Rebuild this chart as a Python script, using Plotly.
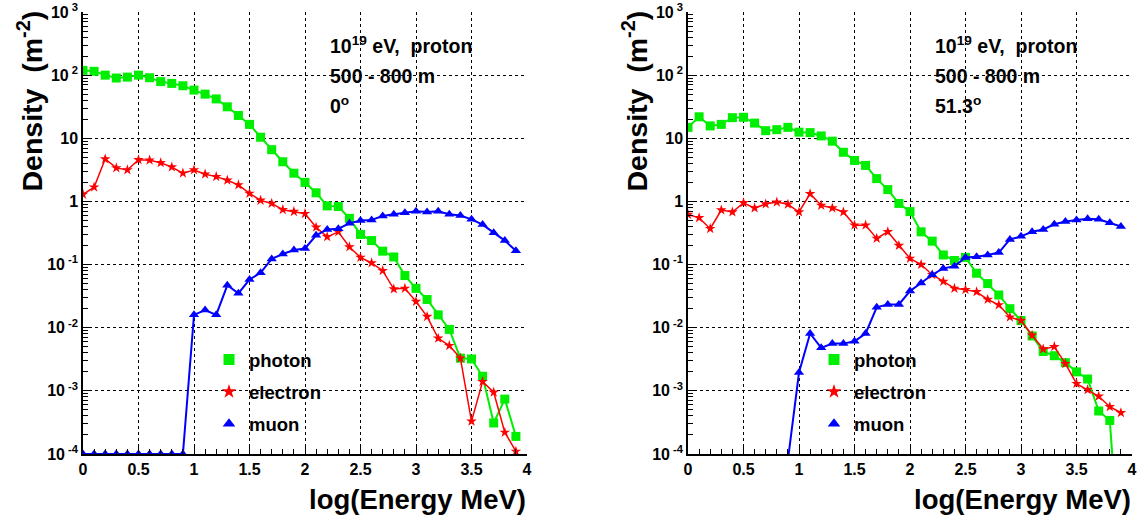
import plotly.graph_objects as go

# ---------------- data ----------------
log_energy = [0.0, 0.1, 0.2, 0.3, 0.4, 0.5, 0.6, 0.7, 0.8, 0.9,
              1.0, 1.1, 1.2, 1.3, 1.4, 1.5, 1.6, 1.7, 1.8, 1.9,
              2.0, 2.1, 2.2, 2.3, 2.4, 2.5, 2.6, 2.7, 2.8, 2.9,
              3.0, 3.1, 3.2, 3.3, 3.4, 3.5, 3.6, 3.7, 3.8, 3.9]

# zenith 0 deg
photon_0 = [119, 115, 100, 90, 93, 100, 91, 79, 74, 68,
            58, 50, 42, 31.5, 23, 16.6, 10.4, 6.6, 4.25, 2.8,
            2.0, 1.37, 0.85, 0.83, 0.54, 0.30, 0.24, 0.163, 0.132, 0.067,
            0.042, 0.028, 0.016, 0.0094, 0.0033, 0.0032, 0.0017, 0.00031, 0.00074, 0.00019]
electron_0 = [1.29, 1.68, 4.7, 3.4, 3.15, 4.57, 4.5, 4.1, 3.5, 2.8,
              3.15, 2.7, 2.47, 2.16, 1.83, 1.34, 1.04, 0.93, 0.74, 0.69,
              0.64, 0.39, 0.275, 0.33, 0.19, 0.13, 0.106, 0.080, 0.041, 0.042,
              0.026, 0.015, 0.0068, 0.0052, 0.0033, 0.00033, 0.0014, 0.00095, 0.00022, 0.00011]
muon_0 = [1e-4, 1e-4, 1e-4, 1e-4, 1e-4, 1e-4, 1e-4, 1e-4, 1e-4, 1e-4,
          0.016, 0.019, 0.016, 0.047, 0.035, 0.058, 0.074, 0.123, 0.147, 0.17,
          0.18, 0.29, 0.36, 0.37, 0.45, 0.50, 0.51, 0.59, 0.625, 0.66,
          0.70, 0.68, 0.70, 0.625, 0.60, 0.52, 0.43, 0.32, 0.24, 0.165]

# zenith 51.3 deg
photon_51 = [14.9, 21.9, 15.7, 16.6, 21.2, 21.5, 17.4, 13.2, 13.7, 14.9,
             12.5, 12.3, 10.9, 9.0, 6.0, 4.46, 3.72, 2.3, 1.54, 0.93,
             0.69, 0.33, 0.235, 0.142, 0.116, 0.13, 0.073, 0.050, 0.033, 0.020,
             0.013, 0.0074, 0.0042, 0.0036, 0.0028, 0.0020, 0.00154, 0.00048, 0.00034, 1.2e-6]
electron_51 = [0.62, 0.55, 0.37, 0.73, 0.68, 0.95, 0.785, 0.91, 0.975, 0.90,
               0.68, 1.32, 0.865, 0.785, 0.68, 0.42, 0.42, 0.26, 0.33, 0.20,
               0.125, 0.10, 0.069, 0.054, 0.042, 0.040, 0.037, 0.028, 0.023, 0.0147,
               0.013, 0.0076, 0.0046, 0.0050, 0.0027, 0.0013, 0.00104, 0.00082, 0.00056, 0.00045]
muon_51 = [None, None, None, None, None, None, None, None, None, 8e-5,
           0.00195, 0.0081, 0.0048, 0.0056, 0.0056, 0.0061, 0.0081, 0.021, 0.0234, 0.0234,
           0.038, 0.051, 0.069, 0.087, 0.094, 0.13, 0.133, 0.142, 0.155, 0.25,
           0.28, 0.33, 0.36, 0.435, 0.48, 0.51, 0.53, 0.52, 0.46, 0.40]

angle_labels = ["0<sup>o</sup>", "51.3<sup>o</sup>"]
x_tick_vals = [0, 0.5, 1, 1.5, 2, 2.5, 3, 3.5, 4]
x_tick_text = ["0", "0.5", "1", "1.5", "2", "2.5", "3", "3.5", "4"]
y_tick_vals = [1e-4, 1e-3, 1e-2, 1e-1, 1, 10, 100, 1000]
y_tick_text = ["10<sup> -4</sup>", "10<sup> -3</sup>", "10<sup> -2</sup>", "10<sup> -1</sup>",
               "1", "10", "10<sup> 2</sup>", "10<sup> 3</sup>"]

# ---------------- layout helpers ----------------
W, H = 1141, 518
FONT = "Liberation Sans, Arial, Helvetica, sans-serif"
GREEN, RED, BLUE = "#00ee00", "#ff0000", "#0000ff"

def px(xp):
    return xp / W

def py(yp):
    return 1 - yp / H

panels = [
    dict(x0=83, x1=527, photon=photon_0, electron=electron_0, muon=muon_0, angle=angle_labels[0]),
    dict(x0=688, x1=1132, photon=photon_51, electron=electron_51, muon=muon_51, angle=angle_labels[1]),
]
PLOT_TOP, PLOT_BOT = 12, 454

series_style = [
    ("photon", GREEN, 2.0, "square", 9, 11),
    ("electron", RED, 1.5, "star", 8, 11),
    ("muon", BLUE, 2.0, "triangle-up", 9, 11),
]

fig = go.Figure()
annotations = []
minor_y = [m * 10.0 ** e for e in range(-4, 3) for m in range(2, 10)]

for i, p in enumerate(panels):
    xa = "x" if i == 0 else "x2"
    ya = "y" if i == 0 else "y2"
    lg = "legend" if i == 0 else "legend2"
    for name, col, lw, sym, msize, lsize in series_style:
        yvals = p[name]
        # connecting line + markers on the plot (not in legend)
        fig.add_trace(go.Scatter(x=log_energy, y=yvals, xaxis=xa, yaxis=ya, mode="lines+markers",
                                 showlegend=False, line=dict(color=col, width=lw),
                                 marker=dict(symbol=sym, size=msize, color=col)))
        # legend entry: marker only
        fig.add_trace(go.Scatter(x=[None], y=[None], xaxis=xa, yaxis=ya, mode="markers",
                                 name=name, legend=lg, legendgroup="%s%d" % (name, i),
                                 marker=dict(symbol=sym, size=lsize, color=col)))

    axis_common = dict(showline=True, linecolor="black", linewidth=1.5, mirror=False,
                       ticks="inside", tickcolor="black", tickwidth=1, automargin=False,
                       showgrid=True, gridcolor="black", gridwidth=1, griddash="dot",
                       zeroline=False,
                       tickfont=dict(family=FONT, size=16, color="black", weight="bold"))
    xaxis = dict(axis_common, domain=[px(p["x0"]), px(p["x1"])], range=[0, 4],
                 tickmode="array", tickvals=x_tick_vals, ticktext=x_tick_text, ticklen=9,
                 minor=dict(ticks="inside", ticklen=5, dtick=0.1, tick0=0, tickcolor="black", showgrid=False),
                 anchor=ya)
    yaxis = dict(axis_common, domain=[py(PLOT_BOT), py(PLOT_TOP)], type="log", range=[-4, 3],
                 tickmode="array", tickvals=y_tick_vals, ticktext=y_tick_text, ticklen=9,
                 minor=dict(ticks="inside", ticklen=5, tickmode="array", tickvals=minor_y,
                            tickcolor="black", showgrid=False),
                 anchor=xa)
    if i == 0:
        fig.update_layout(xaxis=xaxis, yaxis=yaxis)
    else:
        fig.update_layout(xaxis2=xaxis, yaxis2=yaxis)

    leg = dict(x=px(p["x0"] + 126), y=py(341), xanchor="left", yanchor="top",
               bgcolor="rgba(0,0,0,0)", borderwidth=0, tracegroupgap=5,
               font=dict(family=FONT, size=18.5, color="black", weight="bold"),
               itemsizing="trace", itemwidth=30)
    if i == 0:
        fig.update_layout(legend=leg)
    else:
        fig.update_layout(legend2=leg)

    tx = px(p["x0"] + 245)
    for txt, yp in [("10<sup>19</sup> eV,  proton", 45), ("500 - 800 m", 76), (p["angle"], 105)]:
        annotations.append(dict(text=txt, x=tx, y=py(yp), xref="paper", yref="paper",
                                xanchor="left", yanchor="middle", showarrow=False,
                                font=dict(family=FONT, size=19.5, color="black", weight="bold")))
    # axis titles
    annotations.append(dict(text="log(Energy MeV)", x=px(p["x1"] + 1), y=py(499), xref="paper", yref="paper",
                            xanchor="right", yanchor="middle", showarrow=False,
                            font=dict(family=FONT, size=27.5, color="black", weight="bold")))
    annotations.append(dict(text="Density  (m<sup>-2</sup>)", x=px(p["x0"] - 52), y=py(PLOT_TOP - 3),
                            xref="paper", yref="paper", textangle=-90,
                            xanchor="center", yanchor="top", showarrow=False,
                            font=dict(family=FONT, size=28.5, color="black", weight="bold")))

fig.update_layout(width=W, height=H, margin=dict(l=0, r=0, t=0, b=0),
                  paper_bgcolor="white", plot_bgcolor="white",
                  annotations=annotations, showlegend=True)

fig.write_html("out.html", config={"displayModeBar": False},
               post_script="document.body.style.margin='0px';")
